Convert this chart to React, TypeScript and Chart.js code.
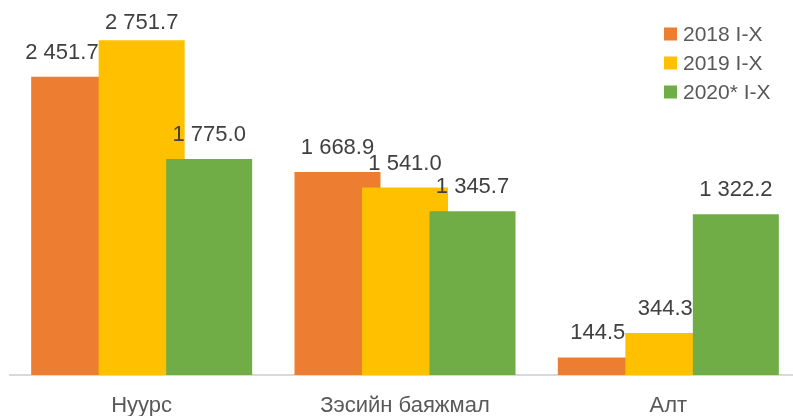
import React, { useEffect, useRef } from "react";
import { Chart, registerables } from "chart.js";

Chart.register(...registerables);

const categories = ["Нуурс", "Зэсийн баяжмал", "Алт"];
const seriesLabels = ["2018 I-X", "2019 I-X", "2020* I-X"];
const values2018 = [2451.7, 1668.9, 144.5];
const values2019 = [2751.7, 1541.0, 344.3];
const values2020 = [1775.0, 1345.7, 1322.2];
const seriesColors = ["#ED7D31", "#FFC000", "#70AD47"];

const FONT = "'Liberation Sans', Arial, sans-serif";

function fmt(v: number): string {
  const s = v.toFixed(1);
  const [i, d] = s.split(".");
  return i.replace(/\B(?=(\d{3})+(?!\d))/g, " ") + "." + d;
}

const orderPlugin = {
  id: "customOrderAndLabels",
  beforeDatasetDraw() {
    return false;
  },
  afterDatasetsDraw(chart: any) {
    const ctx = chart.ctx;
    const n = chart.data.datasets.length;
    for (let i = 0; i < n; i++) {
      chart.getDatasetMeta(i).controller.draw();
    }
    ctx.save();
    ctx.font = `22px ${FONT}`;
    ctx.fillStyle = "#404040";
    ctx.textAlign = "center";
    ctx.textBaseline = "alphabetic";
    const minBaseline = chart.chartArea.top + 19;
    for (let i = 0; i < n; i++) {
      const meta = chart.getDatasetMeta(i);
      meta.data.forEach((bar: any, j: number) => {
        const v = chart.data.datasets[i].data[j] as number;
        const text = fmt(v);
        const w = ctx.measureText(text).width;
        let x = bar.x;
        const baseline = Math.max(bar.y - 18, minBaseline);
        if (i < n - 1) {
          const next: any = chart.getDatasetMeta(i + 1).data[j];
          const nextLeft = next.x - next.width / 2;
          if (next.y < baseline && x + w / 2 > nextLeft) {
            x = nextLeft - w / 2;
          }
        }
        ctx.fillText(text, x, baseline);
      });
    }
    ctx.restore();
  },
  afterDraw(chart: any) {
    const ctx = chart.ctx;
    ctx.save();
    ctx.font = `21px ${FONT}`;
    ctx.textBaseline = "middle";
    ctx.textAlign = "left";
    chart.data.datasets.forEach((ds: any, i: number) => {
      const cy = 34 + i * 29;
      ctx.fillStyle = ds.backgroundColor;
      ctx.fillRect(664, cy - 6.5, 13, 13);
      ctx.fillStyle = "#595959";
      ctx.fillText(ds.label, 683, cy + 1);
    });
    ctx.restore();
  },
};

export default function App() {
  const ref = useRef<HTMLCanvasElement | null>(null);

  useEffect(() => {
    if (!ref.current) return;
    const allValues = [values2018, values2019, values2020];
    const chart = new Chart(ref.current, {
      type: "bar",
      data: {
        labels: categories,
        datasets: allValues.map((vals, i) => ({
          label: seriesLabels[i],
          data: vals,
          backgroundColor: seriesColors[i],
          borderWidth: 0,
          barPercentage: 1.274,
          categoryPercentage: 0.769,
        })),
      },
      options: {
        animation: false,
        responsive: false,
        devicePixelRatio: 1,
        layout: { padding: { left: 10, top: 10, right: 0, bottom: 0 } },
        plugins: {
          legend: { display: false },
          tooltip: { enabled: false },
        },
        scales: {
          x: {
            type: "category",
            grid: { display: false, drawTicks: false },
            border: { display: true, color: "#D9D9D9", width: 2 },
            ticks: {
              font: { family: FONT, size: 22, lineHeight: 1 },
              color: "#595959",
              padding: 20,
              maxRotation: 0,
              autoSkip: false,
            },
          },
          y: { display: false, min: 0, max: 3000 },
        },
      },
      plugins: [orderPlugin],
    });
    return () => chart.destroy();
  }, []);

  return (
    <div
      style={{
        position: "fixed",
        left: 0,
        top: 0,
        width: 793,
        height: 416,
        overflow: "hidden",
        background: "#fff",
      }}
    >
      <canvas
        ref={ref}
        width={800}
        height={437}
        style={{ width: 800, height: 437, display: "block" }}
      />
    </div>
  );
}
